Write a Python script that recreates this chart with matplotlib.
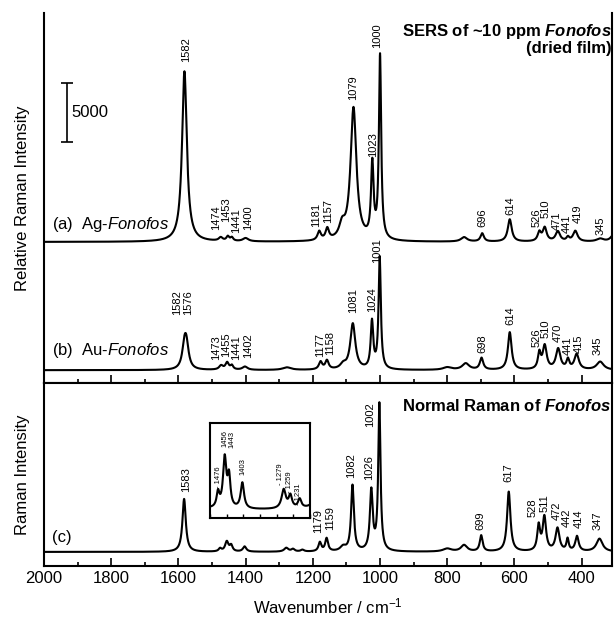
import numpy as np
import matplotlib.pyplot as plt
from matplotlib.ticker import MultipleLocator

plt.rcParams["font.family"] = ["Liberation Sans", "DejaVu Sans"]
plt.rcParams["mathtext.fontset"] = "custom"
plt.rcParams["mathtext.rm"] = "Liberation Sans"
plt.rcParams["mathtext.it"] = "Liberation Sans:italic"
plt.rcParams["mathtext.bf"] = "Liberation Sans:bold"
plt.rcParams["mathtext.bfit"] = "Liberation Sans:bold:italic"

# ---------------------------------------------------------------
# Peak tables: position (cm-1), height, FWHM
# ---------------------------------------------------------------
ag_pos = [1582, 1474, 1453, 1441, 1400, 1181, 1157, 1113, 1079, 1023, 1000,
          750, 696, 614, 526, 510, 471, 441, 419, 345, 305]
ag_height = [14500, 300, 380, 300, 280, 750, 950, 1100, 11300, 6300, 15600,
             380, 700, 1900, 750, 1150, 850, 330, 900, 250, 600]
ag_width = [17, 14, 10, 10, 20, 12, 12, 20, 21, 9, 8,
            22, 12, 14, 12, 14, 16, 10, 16, 25, 20]

au_pos = [1582, 1576, 1473, 1455, 1441, 1402, 1277, 1177, 1158, 1110, 1081,
          1024, 1001, 800, 745, 698, 614, 526, 510, 470, 441, 415, 345]
au_height = [1800, 1800, 350, 600, 350, 280, 220, 650, 750, 380, 3900,
             4000, 9500, 220, 550, 1000, 3200, 1350, 2000, 1750, 800, 1300, 700]
au_width = [16, 16, 14, 12, 10, 18, 30, 12, 12, 20, 18,
            9, 8, 30, 25, 12, 13, 10, 14, 16, 10, 16, 25]

nr_pos = [1583, 1476, 1456, 1443, 1403, 1279, 1259, 1231, 1179, 1159, 1110,
          1082, 1026, 1002, 800, 750, 699, 617, 528, 511, 472, 442, 414, 347]
nr_height = [530, 30, 100, 60, 52, 38, 25, 18, 90, 130, 45,
             660, 600, 1470, 30, 65, 160, 600, 250, 340, 230, 120, 150, 130]
nr_width = [12, 10, 12, 10, 12, 15, 12, 12, 10, 10, 20,
            10, 10, 8, 30, 22, 10, 12, 10, 12, 14, 8, 12, 22]

ag_offset = 12000
au_offset = 1100
nr_offset = 140

# peak annotations: text, x (cm-1), y of label foot
ag_labels = ["1582", "1474", "1453", "1441", "1400", "1181", "1157", "1079",
             "1023", "1000", "696", "614", "526", "510", "471", "441", "419", "345"]
ag_label_x = [1576, 1487, 1457, 1427, 1393, 1190, 1155, 1080,
              1021, 1009, 696, 613, 535, 508, 473, 443, 413, 345]
ag_label_y = [27300, 13000, 13700, 12750, 13000, 13260, 13600, 24050,
              19200, 28450, 13260, 14280, 13260, 14000, 13000, 12750, 13600, 12580]

au_labels = ["1582", "1576", "1473", "1455", "1441", "1402", "1177", "1158",
             "1081", "1024", "1001", "698", "614", "526", "510", "470", "441",
             "415", "345"]
au_label_x = [1603, 1571, 1487, 1457, 1427, 1393, 1179, 1149,
              1080, 1024, 1009, 696, 613, 535, 506, 470, 441, 410, 354]
au_label_y = [5780, 5780, 1955, 2210, 1955, 2125, 2210, 2380,
              5950, 6035, 10200, 2550, 4930, 3060, 3825, 3485, 2380, 2550, 2380]

nr_labels = ["1583", "1179", "1159", "1082", "1026", "1002", "699", "617",
             "528", "511", "472", "442", "414", "347"]
nr_label_x = [1577, 1185, 1149, 1085, 1034, 1030, 702, 619,
              545, 509, 474, 443, 410, 354]
nr_label_y = [740, 330, 360, 880, 860, 1390, 360, 840,
              490, 540, 460, 390, 380, 360]

inset_labels = ["- 1476", "1456", "1443", "1403", "- 1279", "- 1259", "- 1231"]
inset_label_x = [1476, 1455, 1434, 1401, 1290, 1263, 1236]
inset_label_y = [0.32, 0.75, 0.74, 0.45, 0.35, 0.26, 0.14]

x_ticks = [2000, 1800, 1600, 1400, 1200, 1000, 800, 600, 400]

wn = np.linspace(2000, 300, 3401)


def spectrum(x, pos, height, width):
    y = np.zeros_like(x)
    for p, h, w in zip(pos, height, width):
        y += h / (1.0 + ((x - p) / (w / 2.0)) ** 2)
    return y


ag = spectrum(wn, ag_pos, ag_height, ag_width) + ag_offset
au = spectrum(wn, au_pos, au_height, au_width) + au_offset
nr = spectrum(wn, nr_pos, nr_height, nr_width) + nr_offset

fig = plt.figure(figsize=(6.15, 6.26), dpi=100)
ax_top = fig.add_axes([0.0715, 0.388, 0.9235, 0.591])
ax_bot = fig.add_axes([0.0715, 0.096, 0.9235, 0.292])

lw = 1.5
lab_fs = 8
for ax in (ax_top, ax_bot):
    ax.set_xlim(2000, 310)
    ax.set_yticks([])
    ax.xaxis.set_major_locator(MultipleLocator(200))
    ax.xaxis.set_minor_locator(MultipleLocator(100))
    ax.tick_params(axis="x", which="major", direction="in", length=6, width=1.2,
                   top=False, labelsize=12)
    ax.tick_params(axis="x", which="minor", direction="in", length=3, width=1.2,
                   top=False)
    for s in ax.spines.values():
        s.set_linewidth(1.5)

ax_top.spines["top"].set_visible(False)
ax_top.tick_params(axis="x", labelbottom=False)

# ----- top panel: SERS ----------------------------------------
ax_top.set_ylim(0, 31450)
ax_top.plot(wn, ag, color="black", lw=lw)
ax_top.plot(wn, au, color="black", lw=lw)

for t, x, y in zip(ag_labels, ag_label_x, ag_label_y):
    ax_top.text(x, y, t, rotation=90, ha="center", va="bottom", fontsize=lab_fs)
for t, x, y in zip(au_labels, au_label_x, au_label_y):
    ax_top.text(x, y, t, rotation=90, ha="center", va="bottom", fontsize=lab_fs)

ax_top.text(1976, 13100, r"(a)  Ag-$\mathit{Fonofos}$", fontsize=12, va="baseline")
ax_top.text(1976, 2380, r"(b)  Au-$\mathit{Fonofos}$", fontsize=12, va="baseline")
ax_top.text(312, 29500, r"SERS of ~10 ppm $\mathbfit{Fonofos}$", fontsize=12,
            fontweight="bold", ha="right", va="baseline")
ax_top.text(312, 28100, "(dried film)", fontsize=12, fontweight="bold",
            ha="right", va="baseline")

# 5000-count scale bar
ax_top.errorbar([1932], [23000], yerr=[2500], color="black", lw=1.2,
                capsize=4, capthick=1.2)
ax_top.text(1917, 23000, "5000", fontsize=12, va="center", ha="left")
ax_top.set_ylabel("Relative Raman Intensity", fontsize=12, labelpad=10)

# ----- bottom panel: normal Raman -----------------------------
ax_bot.set_ylim(0, 1830)
ax_bot.plot(wn, nr, color="black", lw=lw)
for t, x, y in zip(nr_labels, nr_label_x, nr_label_y):
    ax_bot.text(x, y, t, rotation=90, ha="center", va="bottom", fontsize=lab_fs)
ax_bot.text(1976, 240, "(c)", fontsize=12, va="baseline")
ax_bot.text(312, 1550, r"Normal Raman of $\mathbfit{Fonofos}$", fontsize=12,
            fontweight="bold", ha="right", va="baseline")
ax_bot.set_xticks(x_ticks)
ax_bot.set_xlabel(r"Wavenumber / cm$^{-1}$", fontsize=12, labelpad=8)
ax_bot.set_ylabel("Raman Intensity", fontsize=12, labelpad=10)

# ----- inset: 1500-1200 region of normal Raman ----------------
ax_in = fig.add_axes([0.3415, 0.1725, 0.1626, 0.1518])
ax_in.plot(wn, nr, color="black", lw=1.5)
ax_in.set_xlim(1500, 1200)
seg = nr[(wn <= 1500) & (wn >= 1200)]
lo, hi = seg.min(), seg.max()
ax_in.set_ylim(lo - 0.175 * (hi - lo), hi + 0.575 * (hi - lo))
ax_in.set_yticks([])
ax_in.xaxis.set_major_locator(MultipleLocator(50))
ax_in.tick_params(axis="x", direction="in", length=3, width=1, labelbottom=False)
for s in ax_in.spines.values():
    s.set_linewidth(1.5)
for t, x, y in zip(inset_labels, inset_label_x, inset_label_y):
    ax_in.text(x, y, t, rotation=90, ha="center", va="bottom", fontsize=5.5,
               transform=ax_in.get_xaxis_transform())

fig.savefig("out.png", dpi=100)
